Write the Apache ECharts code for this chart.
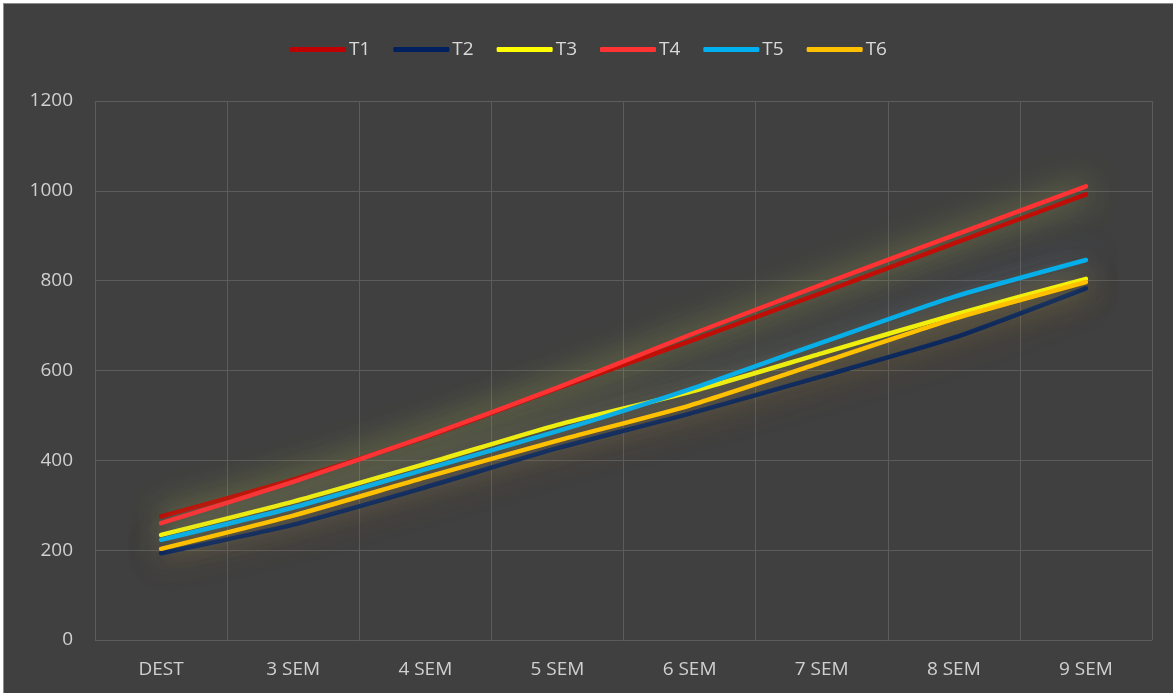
<!DOCTYPE html>
<html>
<head>
<meta charset="utf-8">
<script src="https://cdn.jsdelivr.net/npm/echarts@6/dist/echarts.min.js"></script>
<style>
  html, body { margin: 0; padding: 0; background: #ffffff; }
  #chart { position: absolute; left: 3px; top: 3px; width: 1170px; height: 690px; background: #404040; border-top: 1px solid #8c8c8c; border-left: 1px solid #8c8c8c; box-sizing: border-box; }
</style>
</head>
<body>
<div id="chart"></div>
<script>
// Categories on the x axis
const categories = ['DEST', '3 SEM', '4 SEM', '5 SEM', '6 SEM', '7 SEM', '8 SEM', '9 SEM'];

// One series per treatment
const t1 = [275, 357, 451, 560, 665, 773, 883, 992];
const t2 = [193, 257, 340, 427, 504, 587, 673, 783];
const t3 = [234, 308, 392, 479, 552, 638, 724, 804];
const t4 = [260, 352, 453, 562, 679, 791, 901, 1010];
const t5 = [223, 295, 380, 465, 558, 662, 764, 846];
const t6 = [203, 277, 362, 444, 522, 618, 715, 797];

const seriesNames = ['T1', 'T2', 'T3', 'T4', 'T5', 'T6'];
const seriesData = [t1, t2, t3, t4, t5, t6];
const seriesColors = ['#c00000', '#002060', '#ffff00', '#ff3333', '#00b0f0', '#ffc000'];
const glowColors = ['rgba(190,200,90,0.7)', 'rgba(150,100,40,0.7)', 'rgba(190,200,90,0.7)', 'rgba(190,200,90,0.7)', 'rgba(80,110,190,0.75)', 'rgba(190,150,60,0.7)'];

const yTicks = [0, 200, 400, 600, 800, 1000, 1200];

const chart = echarts.init(document.getElementById('chart'));
chart.setOption({
  backgroundColor: '#404040',
  animation: false,
  textStyle: { fontFamily: 'Open Sans' },
  legend: {
    top: 31,
    left: 'center',
    itemWidth: 56,
    itemHeight: 5,
    itemGap: 23,
    icon: 'roundRect',
    textStyle: { color: '#d9d9d9', fontSize: 19, fontFamily: 'Open Sans', padding: [0, 0, 0, -2] },
    data: seriesNames
  },
  grid: { left: 91, right: 21, top: 97, bottom: 53 },
  xAxis: {
    type: 'category',
    data: categories,
    boundaryGap: true,
    axisLine: { show: false },
    axisTick: { show: false },
    axisLabel: { color: '#d0d0d0', fontSize: 19, margin: 20 },
    splitLine: { show: true, interval: 0, lineStyle: { color: '#5c5c5c', width: 1 } }
  },
  yAxis: {
    type: 'value',
    min: yTicks[0],
    max: yTicks[yTicks.length - 1],
    interval: 200,
    axisLine: { show: false },
    axisTick: { show: false },
    axisLabel: { color: '#d0d0d0', fontSize: 19, margin: 22, formatter: v => String(v) },
    splitLine: { lineStyle: { color: '#5c5c5c', width: 1 } }
  },
  series: seriesNames.map((name, i) => ({
    name: name,
    type: 'line',
    data: seriesData[i],
    smooth: 0.2,
    symbol: 'none',
    lineStyle: {
      color: seriesColors[i],
      width: 4.5,
      cap: 'round',
      shadowBlur: 32,
      shadowColor: glowColors[i]
    },
    itemStyle: { color: seriesColors[i] }
  }))
});
</script>
</body>
</html>
